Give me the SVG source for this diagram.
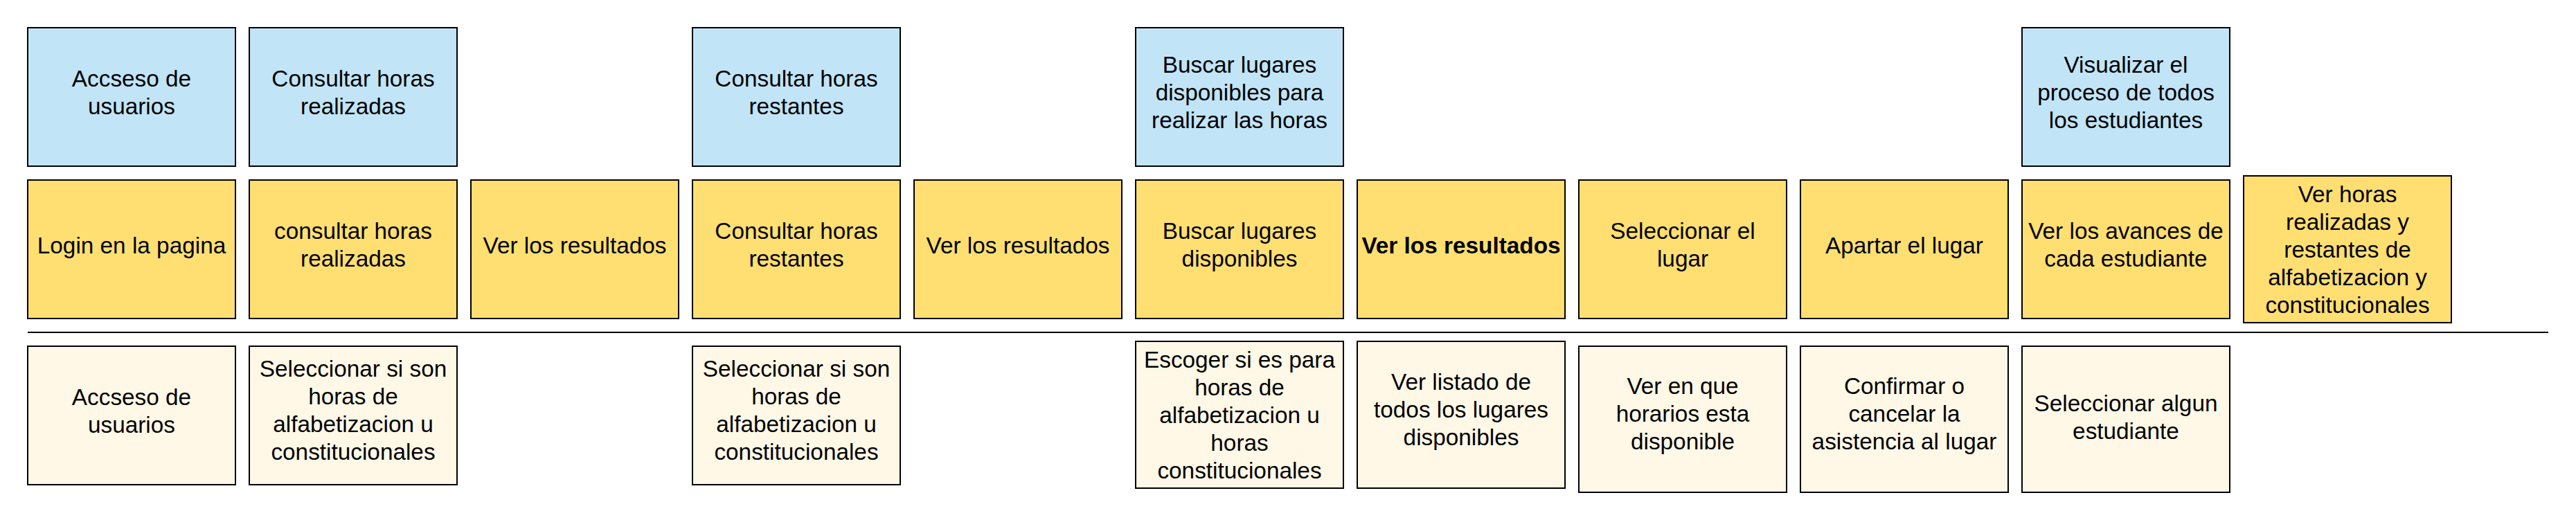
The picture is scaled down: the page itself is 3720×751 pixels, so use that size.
<svg xmlns="http://www.w3.org/2000/svg" width="3720" height="751" viewBox="0 0 3720 751">
<style>
rect{stroke:#000;stroke-width:2}
.b{fill:#C1E4F7}
.y{fill:#FFDF71}
.c{fill:#FFF8E6}
text{font-family:"Liberation Sans",Arial,sans-serif;font-size:33.33px;fill:#000;text-anchor:middle}
.bold{font-weight:bold}
</style>
<rect x="0" y="0" width="3720" height="751" style="fill:#fff;stroke:none"/>
<g id="connectors">
<line x1="40" y1="480" x2="3680" y2="480" stroke="#000" stroke-width="2"/>
</g>
<g id="b1"><rect class="b" x="40" y="40" width="300" height="200"/><text x="190" y="125">Accseso de</text><text x="190" y="165">usuarios</text></g>
<g id="b2"><rect class="b" x="360" y="40" width="300" height="200"/><text x="510" y="125">Consultar horas</text><text x="510" y="165">realizadas</text></g>
<g id="b4"><rect class="b" x="1000" y="40" width="300" height="200"/><text x="1150" y="125">Consultar horas</text><text x="1150" y="165">restantes</text></g>
<g id="b6"><rect class="b" x="1640" y="40" width="300" height="200"/><text x="1790" y="105">Buscar lugares</text><text x="1790" y="145">disponibles para</text><text x="1790" y="185">realizar las horas</text></g>
<g id="b10"><rect class="b" x="2920" y="40" width="300" height="200"/><text x="3070" y="105">Visualizar el</text><text x="3070" y="145">proceso de todos</text><text x="3070" y="185">los estudiantes</text></g>

<g id="y1"><rect class="y" x="40" y="260" width="300" height="200"/><text x="190" y="366">Login en la pagina</text></g>
<g id="y2"><rect class="y" x="360" y="260" width="300" height="200"/><text x="510" y="345">consultar horas</text><text x="510" y="385">realizadas</text></g>
<g id="y3"><rect class="y" x="680" y="260" width="300" height="200"/><text x="830" y="366">Ver los resultados</text></g>
<g id="y4"><rect class="y" x="1000" y="260" width="300" height="200"/><text x="1150" y="345">Consultar horas</text><text x="1150" y="385">restantes</text></g>
<g id="y5"><rect class="y" x="1320" y="260" width="300" height="200"/><text x="1470" y="366">Ver los resultados</text></g>
<g id="y6"><rect class="y" x="1640" y="260" width="300" height="200"/><text x="1790" y="345">Buscar lugares</text><text x="1790" y="385">disponibles</text></g>
<g id="y7"><rect class="y" x="1960" y="260" width="300" height="200"/><text class="bold" x="2110" y="366">Ver los resultados</text></g>
<g id="y8"><rect class="y" x="2280" y="260" width="300" height="200"/><text x="2430" y="345">Seleccionar el</text><text x="2430" y="385">lugar</text></g>
<g id="y9"><rect class="y" x="2600" y="260" width="300" height="200"/><text x="2750" y="366">Apartar el lugar</text></g>
<g id="y10"><rect class="y" x="2920" y="260" width="300" height="200"/><text x="3070" y="345">Ver los avances de</text><text x="3070" y="385">cada estudiante</text></g>
<g id="y11"><rect class="y" x="3240" y="254" width="300" height="212"/><text x="3390" y="292">Ver horas</text><text x="3390" y="332">realizadas y</text><text x="3390" y="372">restantes de</text><text x="3390" y="412">alfabetizacion y</text><text x="3390" y="452">constitucionales</text></g>

<g id="c1"><rect class="c" x="40" y="500" width="300" height="200"/><text x="190" y="585">Accseso de</text><text x="190" y="625">usuarios</text></g>
<g id="c2"><rect class="c" x="360" y="500" width="300" height="200"/><text x="510" y="544">Seleccionar si son</text><text x="510" y="584">horas de</text><text x="510" y="624">alfabetizacion u</text><text x="510" y="664">constitucionales</text></g>
<g id="c4"><rect class="c" x="1000" y="500" width="300" height="200"/><text x="1150" y="544">Seleccionar si son</text><text x="1150" y="584">horas de</text><text x="1150" y="624">alfabetizacion u</text><text x="1150" y="664">constitucionales</text></g>
<g id="c6"><rect class="c" x="1640" y="493" width="300" height="212"/><text x="1790" y="531">Escoger si es para</text><text x="1790" y="571">horas de</text><text x="1790" y="611">alfabetizacion u</text><text x="1790" y="651">horas</text><text x="1790" y="691">constitucionales</text></g>
<g id="c7"><rect class="c" x="1960" y="493" width="300" height="212"/><text x="2110" y="563">Ver listado de</text><text x="2110" y="603">todos los lugares</text><text x="2110" y="643">disponibles</text></g>
<g id="c8"><rect class="c" x="2280" y="500" width="300" height="211"/><text x="2430" y="569">Ver en que</text><text x="2430" y="609">horarios esta</text><text x="2430" y="649">disponible</text></g>
<g id="c9"><rect class="c" x="2600" y="500" width="300" height="211"/><text x="2750" y="569">Confirmar o</text><text x="2750" y="609">cancelar la</text><text x="2750" y="649">asistencia al lugar</text></g>
<g id="c10"><rect class="c" x="2920" y="500" width="300" height="211"/><text x="3070" y="594">Seleccionar algun</text><text x="3070" y="634">estudiante</text></g>
</svg>
